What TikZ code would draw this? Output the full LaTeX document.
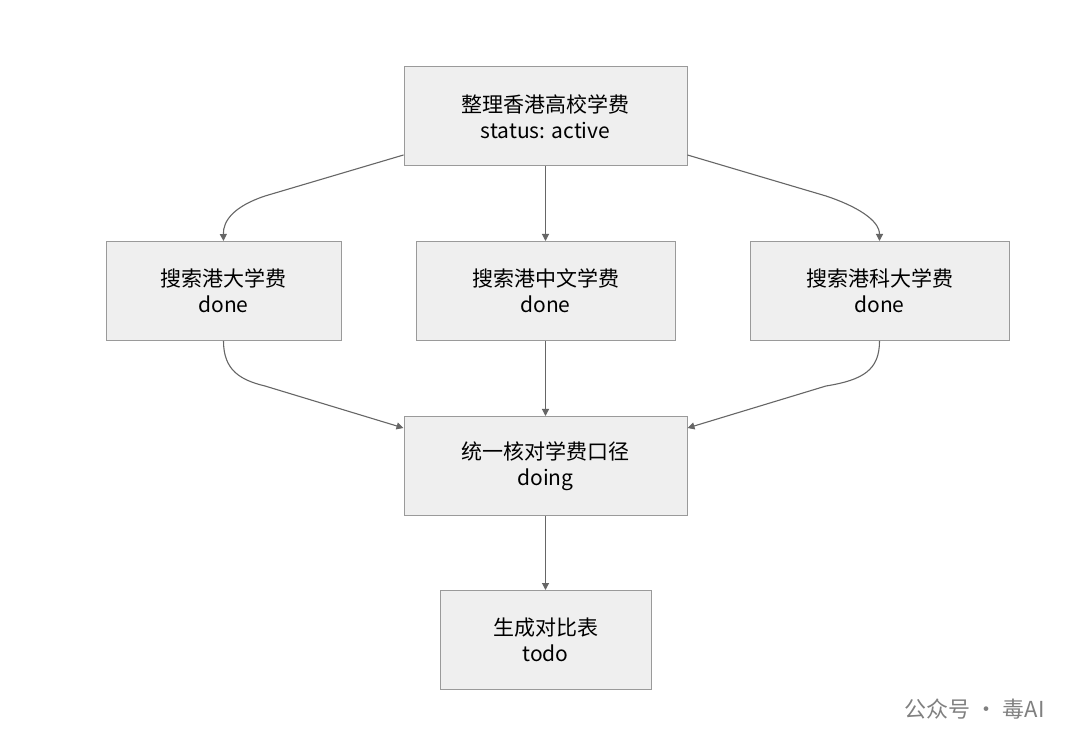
\documentclass[tikz,border=0pt]{standalone}
\usepackage{fontspec}
\setmainfont{Noto Sans CJK SC}
\usetikzlibrary{arrows.meta}
\definecolor{boxfill}{HTML}{EFEFEF}
\definecolor{boxline}{HTML}{9A9A9A}
\definecolor{edge}{HTML}{666666}
\begin{document}
\begin{tikzpicture}[x=1pt,y=-1pt,
  box/.style={draw=boxline,fill=boxfill,line width=1pt,minimum height=99pt,align=center,font=\fontsize{21}{26}\selectfont,text=black,inner sep=0pt},
  arr/.style={draw=edge,line width=1.1pt,-{Triangle[length=7pt,width=7pt]}}]
\useasboundingbox[fill=white] (0,0) rectangle (1080,751);
\node[box,minimum width=283pt] (top) at (545.5,116.5) {整理香港高校学费\\status: active};
\node[box,minimum width=235pt] (a) at (223.5,291) {搜索港大学费\\done};
\node[box,minimum width=259pt] (b) at (545.5,291) {搜索港中文学费\\done};
\node[box,minimum width=259pt] (c) at (879.5,291) {搜索港科大学费\\done};
\node[box,minimum width=283pt] (u) at (545.5,466) {统一核对学费口径\\doing};
\node[box,minimum width=211pt] (e) at (545.5,640) {生成对比表\\todo};
\draw[arr] (top.west|-0,155) -- (265,196) .. controls (235,206) and (223,220) .. (a.north);
\draw[arr] (top) -- (b);
\draw[arr] (top.east|-0,155) -- (826,196) .. controls (856,206) and (879.5,220) .. (c.north);
\draw[arr] (a.south) .. controls (223.5,370) and (240,380) .. (265,386) -- (u.west|-0,428);
\draw[arr] (b) -- (u);
\draw[arr] (c.south) .. controls (879.5,370) and (863,380) .. (826,386) -- (u.east|-0,428);
\draw[arr] (u) -- (e);
\node[text=gray,font=\fontsize{22}{24}\selectfont,anchor=east] (wm) at (1048,709) {公众号 · 毒AI};
\end{tikzpicture}
\end{document}
